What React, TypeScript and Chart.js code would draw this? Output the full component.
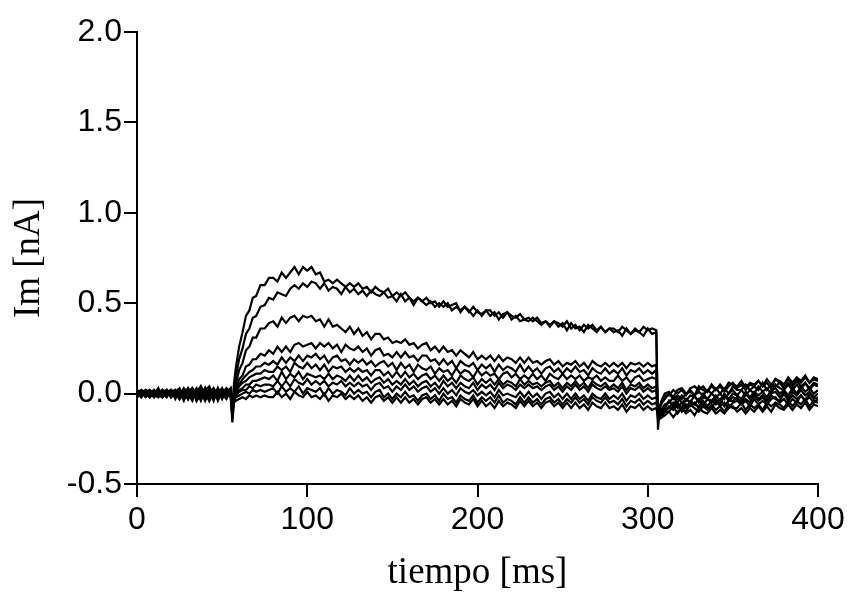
import React, { useEffect, useRef } from "react";
import { Chart, registerables } from "chart.js";

Chart.register(...registerables);

// time points (ms)
const TIME = [
  0, 2.5, 5, 7.5, 10, 12.5, 15, 17.5, 20, 22.5,
  25, 27.5, 30, 32.5, 35, 37.5, 40, 42.5, 45, 47.5,
  50, 52.5, 55,
  56, 57, 58, 60, 62, 64, 66, 68, 70, 72.5, 75, 77.5,
  80, 82.5, 85, 87.5, 90, 92.5, 95, 97.5, 100, 102.5,
  105, 107.5, 110, 112.5, 115, 117.5, 120, 122.5, 125, 127.5,
  130, 132.5, 135, 137.5, 140, 142.5, 145, 147.5, 150, 152.5,
  155, 157.5, 160, 162.5, 165, 167.5, 170, 172.5, 175, 177.5,
  180, 182.5, 185, 187.5, 190, 192.5, 195, 197.5, 200, 202.5,
  205, 207.5, 210, 212.5, 215, 217.5, 220, 222.5, 225, 227.5,
  230, 232.5, 235, 237.5, 240, 242.5, 245, 247.5, 250, 252.5,
  255, 257.5, 260, 262.5, 265, 267.5, 270, 272.5, 275, 277.5,
  280, 282.5, 285, 287.5, 290, 292.5, 295, 297.5, 300, 302.5,
  305,
  306, 307, 308.5, 310,
  312.5, 315, 317.5, 320, 322.5, 325, 327.5, 330, 332.5, 335,
  337.5, 340, 342.5, 345, 347.5, 350, 352.5, 355, 357.5, 360,
  362.5, 365, 367.5, 370, 372.5, 375, 377.5, 380, 382.5, 385,
  387.5, 390, 392.5, 395, 397.5, 400,
];

// membrane current traces (nA), one per voltage step
const traceA = [
  0.01, -0.02, 0.02, 0.0, -0.01, 0.03, -0.02, 0.01, 0.02, -0.03,
  0.02, 0.0, 0.03, -0.03, 0.01, 0.04, -0.02, 0.02, -0.04, 0.03,
  -0.01, 0.02, 0.0,
  -0.08, 0.06, 0.14, 0.26, 0.34, 0.43, 0.46, 0.53, 0.54, 0.6, 0.6, 0.64,
  0.64, 0.62, 0.67, 0.64, 0.67, 0.7, 0.66, 0.7, 0.68, 0.7,
  0.66, 0.67, 0.62, 0.63, 0.61, 0.63, 0.61, 0.59, 0.61, 0.59,
  0.61, 0.58, 0.59, 0.56, 0.59, 0.57, 0.56, 0.58, 0.54, 0.56,
  0.54, 0.56, 0.53, 0.51, 0.53, 0.51, 0.53, 0.5, 0.51, 0.48,
  0.51, 0.48, 0.49, 0.5, 0.45, 0.48, 0.45, 0.48, 0.45, 0.44,
  0.46, 0.46, 0.43, 0.45, 0.42, 0.45, 0.43, 0.42, 0.44, 0.41,
  0.42, 0.4, 0.42, 0.39, 0.4, 0.37, 0.4, 0.39, 0.37, 0.4,
  0.36, 0.38, 0.35, 0.38, 0.36, 0.38, 0.35, 0.37, 0.34, 0.36,
  0.36, 0.34, 0.37, 0.35, 0.33, 0.36, 0.34, 0.37, 0.35, 0.36,
  0.35,
  -0.2, -0.08, -0.03, 0.0,
  0.01, -0.02, 0.02, 0.03, 0.0, 0.02, -0.01, 0.04, 0.02, 0.01,
  0.04, 0.02, 0.04, 0.01, 0.04, 0.06, 0.03, 0.05, 0.02, 0.05,
  0.04, 0.07, 0.04, 0.06, 0.03, 0.08, 0.06, 0.05, 0.08, 0.05,
  0.08, 0.06, 0.09, 0.06, 0.08, 0.07,
];
const traceB = [
  -0.02, 0.01, -0.01, 0.02, 0.0, -0.02, 0.02, -0.01, 0.01, 0.02,
  -0.03, 0.01, -0.03, 0.02, 0.0, -0.03, 0.03, -0.04, 0.01, 0.0,
  0.03, -0.02, 0.01,
  -0.1, 0.03, 0.09, 0.19, 0.25, 0.33, 0.36, 0.42, 0.43, 0.48, 0.49, 0.53,
  0.52, 0.56, 0.55, 0.54, 0.58, 0.6, 0.58, 0.61, 0.59, 0.62,
  0.61, 0.58, 0.61, 0.57, 0.59, 0.58, 0.55, 0.59, 0.56, 0.58,
  0.55, 0.57, 0.54, 0.57, 0.55, 0.54, 0.56, 0.53, 0.54, 0.51,
  0.55, 0.51, 0.53, 0.49, 0.53, 0.51, 0.49, 0.51, 0.48, 0.5,
  0.48, 0.5, 0.46, 0.48, 0.46, 0.48, 0.46, 0.43, 0.46, 0.43,
  0.46, 0.43, 0.45, 0.41, 0.44, 0.45, 0.41, 0.43, 0.4, 0.41,
  0.4, 0.42, 0.4, 0.38, 0.4, 0.38, 0.4, 0.37, 0.39, 0.35,
  0.39, 0.36, 0.37, 0.34, 0.38, 0.36, 0.34, 0.37, 0.34, 0.36,
  0.34, 0.35, 0.32, 0.36, 0.33, 0.35, 0.34, 0.32, 0.36, 0.33,
  0.34,
  -0.14, -0.07, -0.03, -0.01,
  -0.01, 0.02, 0.0, 0.02, -0.01, 0.03, 0.04, 0.02, 0.04, 0.01,
  0.05, 0.02, 0.05, 0.02, 0.06, 0.05, 0.04, 0.07, 0.03, 0.06,
  0.05, 0.07, 0.04, 0.08, 0.05, 0.08, 0.07, 0.05, 0.09, 0.06,
  0.09, 0.07, 0.1, 0.06, 0.09, 0.08,
];
const traceC = [
  0.0, 0.02, -0.01, 0.01, -0.02, 0.01, 0.02, -0.01, 0.0, 0.01,
  0.03, -0.02, 0.01, 0.03, -0.04, 0.0, 0.02, 0.04, -0.03, 0.01,
  0.02, 0.0, -0.02,
  -0.12, 0.0, 0.05, 0.13, 0.17, 0.24, 0.26, 0.31, 0.31, 0.36, 0.36, 0.39,
  0.4, 0.37, 0.42, 0.39, 0.42, 0.43, 0.4, 0.43, 0.42, 0.43,
  0.4, 0.41, 0.37, 0.41, 0.37, 0.38, 0.36, 0.34, 0.37, 0.33,
  0.36, 0.32, 0.34, 0.3, 0.33, 0.33, 0.3, 0.31, 0.28, 0.29,
  0.28, 0.3, 0.27, 0.28, 0.25, 0.27, 0.28, 0.24, 0.26, 0.23,
  0.26, 0.23, 0.24, 0.21, 0.24, 0.22, 0.2, 0.23, 0.19, 0.21,
  0.19, 0.21, 0.18, 0.21, 0.18, 0.2, 0.19, 0.17, 0.2, 0.17,
  0.2, 0.17, 0.18, 0.16, 0.18, 0.19, 0.16, 0.18, 0.15, 0.17,
  0.16, 0.18, 0.15, 0.17, 0.14, 0.18, 0.16, 0.15, 0.17, 0.15,
  0.17, 0.15, 0.17, 0.14, 0.17, 0.16, 0.17, 0.15, 0.17, 0.15,
  0.16,
  -0.12, -0.08, -0.05, -0.03,
  0.0, -0.03, -0.01, -0.03, 0.0, 0.01, -0.01, 0.01, -0.01, 0.02,
  0.0, 0.03, 0.0, 0.03, 0.0, 0.04, 0.02, 0.02, 0.05, 0.02,
  0.04, 0.02, 0.06, 0.02, 0.05, 0.04, 0.06, 0.03, 0.06, 0.04,
  0.07, 0.04, 0.06, 0.03, 0.06, 0.05,
];
const traceD = [
  0.01, -0.01, 0.0, -0.02, 0.02, 0.0, -0.01, 0.02, -0.02, 0.0,
  -0.01, 0.03, 0.0, -0.04, 0.02, 0.01, -0.04, 0.01, 0.03, -0.02,
  0.0, 0.03, 0.01,
  -0.16, -0.04, 0.02, 0.08, 0.1, 0.15, 0.16, 0.19, 0.19, 0.22, 0.21, 0.24,
  0.22, 0.26, 0.23, 0.26, 0.23, 0.27, 0.28, 0.26, 0.27, 0.28,
  0.25, 0.28, 0.26, 0.28, 0.25, 0.27, 0.23, 0.27, 0.25, 0.24,
  0.26, 0.23, 0.25, 0.21, 0.24, 0.25, 0.21, 0.22, 0.2, 0.23,
  0.2, 0.23, 0.2, 0.21, 0.18, 0.21, 0.21, 0.18, 0.19, 0.16,
  0.19, 0.16, 0.18, 0.14, 0.18, 0.16, 0.15, 0.17, 0.13, 0.16,
  0.14, 0.16, 0.12, 0.16, 0.13, 0.15, 0.14, 0.12, 0.16, 0.12,
  0.15, 0.12, 0.14, 0.11, 0.14, 0.15, 0.12, 0.14, 0.11, 0.14,
  0.12, 0.15, 0.12, 0.13, 0.1, 0.14, 0.12, 0.11, 0.14, 0.11,
  0.13, 0.11, 0.14, 0.1, 0.13, 0.12, 0.14, 0.11, 0.13, 0.11,
  0.13,
  -0.15, -0.11, -0.08, -0.06,
  -0.05, -0.02, -0.05, -0.01, -0.04, -0.01, -0.02, -0.04, 0.0, -0.03,
  0.0, -0.02, 0.0, -0.03, 0.0, 0.02, -0.01, 0.02, -0.01, 0.02,
  0.0, 0.04, 0.01, 0.03, 0.0, 0.05, 0.03, 0.02, 0.05, 0.02,
  0.05, 0.02, 0.06, 0.02, 0.05, 0.04,
];
const traceE = [
  -0.01, 0.0, 0.02, 0.01, -0.01, -0.02, 0.01, 0.0, 0.02, -0.01,
  0.01, -0.04, 0.02, 0.0, 0.03, -0.03, 0.01, -0.01, 0.02, -0.04,
  0.01, -0.01, 0.02,
  -0.14, -0.03, 0.01, 0.05, 0.08, 0.1, 0.12, 0.13, 0.15, 0.15, 0.17, 0.16,
  0.18, 0.16, 0.2, 0.17, 0.2, 0.18, 0.21, 0.18, 0.21, 0.2,
  0.22, 0.19, 0.21, 0.17, 0.2, 0.21, 0.18, 0.19, 0.16, 0.19,
  0.17, 0.19, 0.16, 0.18, 0.15, 0.17, 0.18, 0.15, 0.17, 0.13,
  0.17, 0.14, 0.16, 0.12, 0.16, 0.14, 0.13, 0.15, 0.11, 0.14,
  0.12, 0.13, 0.1, 0.14, 0.11, 0.13, 0.12, 0.09, 0.13, 0.1,
  0.12, 0.1, 0.11, 0.08, 0.11, 0.12, 0.09, 0.11, 0.08, 0.1,
  0.08, 0.11, 0.08, 0.1, 0.07, 0.11, 0.09, 0.08, 0.11, 0.08,
  0.1, 0.08, 0.1, 0.07, 0.09, 0.08, 0.1, 0.07, 0.09, 0.07,
  0.07, 0.1, 0.07, 0.09, 0.06, 0.09, 0.1, 0.07, 0.08, 0.09,
  0.08,
  -0.12, -0.11, -0.09, -0.08,
  -0.04, -0.07, -0.02, -0.05, -0.03, -0.05, -0.01, -0.05, -0.02, -0.03,
  -0.04, -0.01, -0.04, 0.0, -0.03, 0.0, -0.01, -0.03, 0.01, -0.02,
  0.01, -0.01, 0.01, -0.02, 0.02, 0.03, 0.0, 0.02, -0.01, 0.03,
  0.0, 0.04, 0.01, 0.03, 0.0, 0.02,
];
const traceF = [
  0.02, 0.01, -0.02, 0.0, 0.01, 0.02, -0.02, 0.0, -0.01, 0.02,
  0.0, 0.02, -0.03, 0.01, -0.01, 0.04, 0.0, -0.04, 0.01, 0.02,
  -0.02, 0.01, -0.01,
  -0.1, -0.03, 0.01, 0.04, 0.06, 0.07, 0.09, 0.1, 0.11, 0.11, 0.13, 0.12,
  0.12, 0.15, 0.13, 0.15, 0.12, 0.17, 0.15, 0.14, 0.17, 0.14,
  0.16, 0.13, 0.16, 0.12, 0.15, 0.14, 0.15, 0.12, 0.14, 0.12,
  0.14, 0.12, 0.13, 0.1, 0.13, 0.13, 0.1, 0.12, 0.09, 0.12,
  0.09, 0.12, 0.09, 0.11, 0.08, 0.1, 0.11, 0.08, 0.1, 0.07,
  0.1, 0.07, 0.09, 0.06, 0.1, 0.08, 0.07, 0.09, 0.05, 0.08,
  0.06, 0.08, 0.05, 0.08, 0.05, 0.07, 0.06, 0.04, 0.08, 0.05,
  0.07, 0.05, 0.06, 0.04, 0.06, 0.07, 0.04, 0.06, 0.03, 0.06,
  0.04, 0.07, 0.04, 0.06, 0.03, 0.07, 0.05, 0.04, 0.06, 0.03,
  0.05, 0.03, 0.06, 0.02, 0.05, 0.04, 0.06, 0.03, 0.05, 0.03,
  0.04,
  -0.1, -0.11, -0.1, -0.08,
  -0.04, -0.07, -0.05, -0.08, -0.03, -0.05, -0.06, -0.03, -0.07, -0.03,
  -0.05, -0.03, -0.06, -0.01, -0.04, -0.02, -0.03, -0.05, 0.0, -0.03,
  0.0, -0.03, -0.01, -0.04, 0.0, 0.01, -0.02, 0.01, -0.03, 0.01,
  -0.01, 0.02, -0.01, 0.01, -0.02, 0.0,
];
const traceG = [
  -0.01, 0.02, 0.01, -0.02, 0.0, 0.01, 0.0, -0.02, 0.02, 0.0,
  -0.03, 0.01, 0.0, 0.02, -0.04, 0.02, -0.03, 0.0, 0.03, -0.01,
  0.0, -0.03, 0.02,
  -0.08, -0.04, -0.01, 0.02, 0.03, 0.05, 0.05, 0.07, 0.07, 0.08, 0.09, 0.08,
  0.1, 0.07, 0.12, 0.08, 0.11, 0.09, 0.12, 0.08, 0.11, 0.1,
  0.09, 0.1, 0.08, 0.11, 0.08, 0.1, 0.09, 0.07, 0.1, 0.07,
  0.1, 0.07, 0.09, 0.06, 0.08, 0.09, 0.06, 0.08, 0.05, 0.07,
  0.05, 0.08, 0.05, 0.07, 0.04, 0.06, 0.07, 0.04, 0.06, 0.03,
  0.07, 0.04, 0.06, 0.03, 0.06, 0.04, 0.03, 0.06, 0.02, 0.05,
  0.03, 0.05, 0.02, 0.06, 0.03, 0.05, 0.04, 0.02, 0.05, 0.03,
  0.05, 0.03, 0.04, 0.02, 0.04, 0.05, 0.02, 0.04, 0.01, 0.04,
  0.02, 0.05, 0.02, 0.04, 0.01, 0.05, 0.03, 0.02, 0.04, 0.02,
  0.03, 0.01, 0.04, 0.0, 0.03, 0.02, 0.04, 0.01, 0.03, 0.01,
  0.02,
  -0.09, -0.12, -0.1, -0.09,
  -0.08, -0.05, -0.08, -0.05, -0.08, -0.04, -0.06, -0.07, -0.04, -0.07,
  -0.04, -0.06, -0.03, -0.07, -0.04, -0.04, -0.02, -0.05, -0.03, -0.05,
  -0.01, -0.04, -0.02, -0.05, -0.01, -0.03, -0.04, 0.0, -0.04, -0.01,
  -0.03, -0.01, -0.04, 0.0, -0.03, -0.02,
];
const traceH = [
  0.0, -0.02, 0.01, 0.02, -0.01, 0.0, 0.01, 0.02, -0.02, 0.01,
  0.02, -0.01, 0.03, -0.01, 0.01, -0.04, 0.02, 0.01, -0.03, 0.03,
  -0.03, 0.02, 0.0,
  -0.06, -0.03, -0.01, 0.01, 0.02, 0.02, 0.04, 0.03, 0.05, 0.04, 0.05, 0.05,
  0.04, 0.07, 0.04, 0.07, 0.04, 0.08, 0.06, 0.05, 0.08, 0.05,
  0.07, 0.05, 0.07, 0.04, 0.06, 0.05, 0.07, 0.04, 0.06, 0.04,
  0.06, 0.04, 0.05, 0.02, 0.05, 0.06, 0.03, 0.04, 0.01, 0.04,
  0.02, 0.05, 0.02, 0.04, 0.01, 0.03, 0.04, 0.01, 0.03, 0.0,
  0.03, 0.0, 0.02, -0.01, 0.03, 0.01, 0.0, 0.02, -0.01, 0.01,
  -0.01, 0.01, -0.02, 0.02, -0.01, 0.0, -0.01, -0.02, 0.01, -0.02,
  0.01, -0.02, 0.0, -0.03, 0.0, 0.01, -0.02, 0.0, -0.03, 0.0,
  -0.03, 0.0, -0.03, -0.01, -0.04, 0.0, -0.02, -0.03, 0.0, -0.03,
  -0.01, -0.03, 0.0, -0.04, -0.01, -0.02, 0.0, -0.03, -0.01, -0.03,
  -0.02,
  -0.08, -0.12, -0.11, -0.1,
  -0.07, -0.09, -0.06, -0.1, -0.06, -0.07, -0.05, -0.08, -0.06, -0.08,
  -0.08, -0.04, -0.07, -0.05, -0.08, -0.05, -0.04, -0.06, -0.04, -0.07,
  -0.03, -0.06, -0.04, -0.06, -0.03, -0.02, -0.05, -0.03, -0.06, -0.03,
  -0.05, -0.01, -0.04, -0.02, -0.05, -0.03,
];
const traceI = [
  0.01, 0.0, -0.01, 0.0, 0.02, -0.01, -0.02, 0.01, 0.0, -0.02,
  0.01, 0.0, -0.03, 0.03, 0.0, 0.02, -0.03, 0.03, 0.0, -0.02,
  0.01, 0.02, -0.01,
  -0.05, -0.04, -0.02, -0.01, 0.0, 0.01, 0.0, 0.02, 0.01, 0.02, 0.01, 0.02,
  0.03, 0.0, 0.04, 0.01, 0.03, 0.01, 0.04, 0.0, 0.03, 0.02,
  0.01, 0.03, -0.01, 0.03, 0.0, 0.02, 0.01, -0.01, 0.03, 0.0,
  0.02, 0.0, 0.01, -0.02, 0.01, 0.02, -0.02, 0.0, -0.03, 0.0,
  -0.02, 0.01, -0.02, -0.01, -0.04, -0.01, 0.0, -0.03, -0.01, -0.04,
  0.0, -0.03, -0.02, -0.05, -0.01, -0.03, -0.04, -0.01, -0.05, -0.02,
  -0.04, -0.02, -0.05, -0.01, -0.05, -0.03, -0.04, -0.06, -0.02, -0.05,
  -0.02, -0.05, -0.03, -0.06, -0.03, -0.02, -0.05, -0.03, -0.06, -0.03,
  -0.05, -0.02, -0.05, -0.03, -0.06, -0.02, -0.04, -0.05, -0.02, -0.05,
  -0.04, -0.06, -0.03, -0.07, -0.04, -0.05, -0.03, -0.06, -0.04, -0.06,
  -0.05,
  -0.1, -0.13, -0.12, -0.1,
  -0.1, -0.07, -0.11, -0.08, -0.1, -0.06, -0.08, -0.1, -0.07, -0.09,
  -0.06, -0.09, -0.07, -0.1, -0.06, -0.08, -0.08, -0.05, -0.09, -0.06,
  -0.08, -0.06, -0.09, -0.05, -0.07, -0.05, -0.06, -0.08, -0.04, -0.07,
  -0.04, -0.06, -0.03, -0.07, -0.04, -0.05,
];
const traceJ = [
  -0.02, 0.01, 0.0, 0.01, -0.02, 0.02, 0.0, -0.01, 0.01, 0.01,
  -0.01, 0.02, 0.01, -0.02, 0.02, -0.01, 0.03, -0.03, -0.01, 0.02,
  -0.02, 0.0, 0.03,
  -0.07, -0.05, -0.04, -0.03, -0.02, -0.03, -0.01, -0.02, -0.01, -0.02, -0.01, -0.02,
  -0.02, 0.01, -0.02, 0.0, -0.03, 0.01, -0.01, -0.02, 0.01, -0.02,
  -0.01, -0.03, 0.0, -0.04, -0.01, -0.02, 0.0, -0.03, -0.01, -0.03,
  -0.01, -0.04, -0.02, -0.05, -0.02, -0.01, -0.04, -0.02, -0.05, -0.02,
  -0.05, -0.02, -0.05, -0.03, -0.06, -0.03, -0.02, -0.05, -0.03, -0.06,
  -0.03, -0.06, -0.04, -0.07, -0.03, -0.05, -0.06, -0.03, -0.07, -0.04,
  -0.07, -0.05, -0.08, -0.04, -0.07, -0.05, -0.06, -0.08, -0.04, -0.07,
  -0.04, -0.07, -0.05, -0.08, -0.05, -0.04, -0.07, -0.05, -0.08, -0.05,
  -0.08, -0.05, -0.08, -0.06, -0.09, -0.05, -0.07, -0.08, -0.05, -0.08,
  -0.07, -0.09, -0.06, -0.1, -0.07, -0.08, -0.06, -0.09, -0.07, -0.09,
  -0.08,
  -0.12, -0.14, -0.13, -0.12,
  -0.1, -0.13, -0.1, -0.08, -0.11, -0.09, -0.12, -0.08, -0.1, -0.11,
  -0.08, -0.11, -0.09, -0.11, -0.08, -0.07, -0.1, -0.08, -0.11, -0.08,
  -0.1, -0.07, -0.1, -0.07, -0.1, -0.06, -0.08, -0.09, -0.06, -0.09,
  -0.06, -0.08, -0.05, -0.09, -0.06, -0.07,
];

const TRACES = [traceA, traceB, traceC, traceD, traceE, traceF, traceG, traceH, traceI, traceJ];

const X_TITLE = "tiempo [ms]";
const Y_TITLE = "Im [nA]";

export default function App() {
  const ref = useRef<HTMLCanvasElement | null>(null);

  useEffect(() => {
    const canvas = ref.current;
    if (!canvas) return;
    const tickFont = { family: "'Liberation Sans', Arial, sans-serif", size: 32 };
    const titleFont = { family: "'Liberation Serif', 'Times New Roman', serif", size: 37, lineHeight: 1 };
    const chart = new Chart(canvas, {
      type: "line",
      data: {
        datasets: TRACES.map((tr, k) => ({
          label: "trace " + (k + 1),
          data: TIME.map((t, i) => ({ x: t, y: tr[i] })),
          borderColor: "#000",
          borderWidth: 2.2,
          pointRadius: 0,
          tension: 0,
          fill: false,
        })),
      },
      options: {
        responsive: false,
        animation: false,
        events: [],
        layout: { padding: { top: 32, right: 31, left: 0, bottom: 0 } },
        plugins: { legend: { display: false }, tooltip: { enabled: false } },
        scales: {
          x: {
            type: "linear",
            min: 0,
            max: 400,
            afterFit: (s: any) => {
              s.height = 108;
            },
            ticks: {
              stepSize: 100,
              color: "#000",
              font: tickFont,
              padding: 4,
              maxRotation: 0,
              autoSkip: false,
            },
            grid: {
              drawOnChartArea: false,
              drawTicks: true,
              tickLength: 13,
              color: "#000",
              lineWidth: 2,
            },
            border: { display: true, color: "#000", width: 2 },
            title: {
              display: true,
              text: X_TITLE,
              color: "#000",
              font: titleFont,
              padding: { top: 0, bottom: 0 },
            },
          },
          y: {
            type: "linear",
            min: -0.5,
            max: 2,
            afterFit: (s: any) => {
              s.width = 137;
            },
            ticks: {
              stepSize: 0.5,
              color: "#000",
              font: tickFont,
              padding: 2,
              callback: (v: any) => Number(v).toFixed(1),
            },
            grid: {
              drawOnChartArea: false,
              drawTicks: true,
              tickLength: 13,
              color: "#000",
              lineWidth: 2,
            },
            border: { display: true, color: "#000", width: 2 },
            title: {
              display: true,
              text: Y_TITLE,
              color: "#000",
              font: titleFont,
              padding: { top: 11, bottom: 0 },
            },
          },
        },
      },
    });
    return () => chart.destroy();
  }, []);

  return (
    <div style={{ position: "fixed", left: 0, top: 0, width: 849, height: 592, background: "#fff" }}>
      <canvas ref={ref} width={849} height={592} style={{ width: 849, height: 592, display: "block" }} />
    </div>
  );
}
